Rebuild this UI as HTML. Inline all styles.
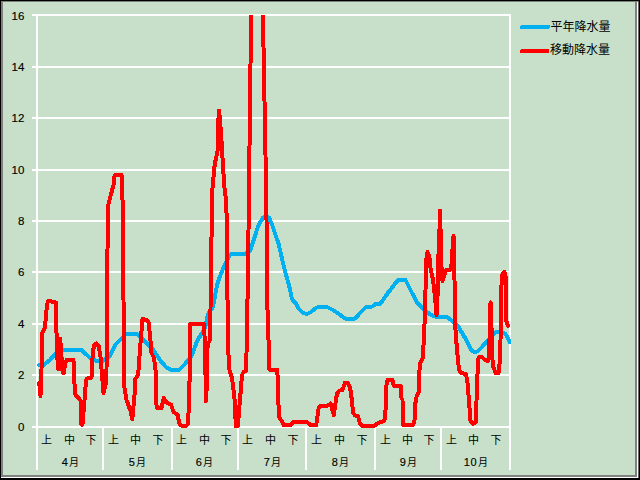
<!DOCTYPE html>
<html><head><meta charset="utf-8"><title>chart</title>
<style>html,body{margin:0;padding:0;background:#c8e0c9;width:640px;height:480px;overflow:hidden}
body{position:relative;font-family:"Liberation Sans",sans-serif}</style></head>
<body><svg width="640" height="480" viewBox="0 0 640 480" style="position:absolute;left:0;top:0"><rect x="0" y="0" width="640" height="480" fill="#000"/><rect x="1" y="1" width="638" height="477" fill="#666"/><rect x="1" y="1" width="637" height="477" fill="#fff"/><rect x="1" y="1" width="636" height="476" fill="#808080"/><rect x="3" y="2" width="632" height="473" fill="#c8e0c9"/><rect x="1" y="1" width="637" height="1" fill="#78867a"/><g shape-rendering="crispEdges" fill="#fff"><rect x="32" y="426" width="479" height="2"/><rect x="32" y="374" width="479" height="2"/><rect x="32" y="323" width="479" height="2"/><rect x="32" y="271" width="479" height="2"/><rect x="32" y="220" width="479" height="2"/><rect x="32" y="169" width="479" height="2"/><rect x="32" y="117" width="479" height="2"/><rect x="32" y="66" width="479" height="2"/><rect x="32" y="14" width="479" height="2"/><rect x="509" y="14" width="2" height="414"/><rect x="36" y="14" width="2" height="456"/><rect x="102" y="427" width="2" height="43"/><rect x="171" y="427" width="2" height="43"/><rect x="237" y="427" width="2" height="43"/><rect x="305" y="427" width="2" height="43"/><rect x="374" y="427" width="2" height="43"/><rect x="440" y="427" width="2" height="43"/><rect x="509" y="427" width="2" height="43"/></g><defs><clipPath id="cp"><rect x="30" y="15" width="490" height="420"/></clipPath></defs><g clip-path="url(#cp)" fill="none" stroke-width="4" stroke-linejoin="round" stroke-linecap="round" shape-rendering="crispEdges"><polyline points="39.3,365 43.5,365 50,360 55,354 59,351.5 63,350 81.5,350 89,357 94,360 98,361.5 103.5,360.5 110,356 115,345 120.5,339.5 126,334 137,334 144,340.5 152.5,349 160,360 166,367 171,370 179,370 185,364 190,358 192,355 197,341 201.5,334 205,328 208,314 213,307 217,285 220.5,275 224.5,265 230,255 232.5,253.5 246,253.5 250.5,250 252.3,244 258.2,226 263,217.5 266,216 269,217.5 272.5,226 278.6,244 280,250 283,263 286,275 289,285 291.5,297 293,301 296,303.5 299,309 303,313 307,314 311,312 315,308.5 319,306.5 324,306.5 328,307.5 333,310 339,314 345,318.5 355,318.5 361.5,311.5 366,307 372.5,306.5 376,303.5 380.5,303.5 387.5,293.5 391,289 398,280 405.5,280 412.5,294 417.5,303 423.5,309 427,312 430,314.5 435,316.5 446,316.5 452.5,321 458.5,327 467.5,342 471,350 475,352.5 478,351 481,348 487.5,340.5 495,332.5 500,332 505,333.5 508,338 509.5,342" stroke="#00b0f0"/><polyline points="39.2,383 40.5,396 41.5,370 41.9,333.5 45,327.5 45.5,321 46,316 47,305 48,301 50,300.5 52,302 56,302.5 56,326 57,340 57.5,360 58.2,369 60.2,338.5 62.6,372 63.8,373 65,364 66.5,360 73.5,360 74,378 75.5,395 79.5,399 80.5,401 81.5,424.5 82.5,424.5 84.5,400 86,381 87,378.5 91.5,377.5 92.7,354 94,345.5 96.25,343.5 98.75,346 100.6,357.5 102,375 103.5,393 105.5,385 106.5,370 107,310 107.5,250 108,206 110.5,196 113.5,185 114.5,176 116,174.5 121,174.5 122,177 122,195 123,205 123.5,300 124.2,386 126.5,400 130.5,411 132.3,419 134.5,395 134.5,380 137.5,376 138.5,370 140,349 141.5,331 142.5,319 146.5,320 148.5,322 150,335 151.5,353 154,358 155.5,370 156.5,405 157.5,408.5 161.5,408 163.8,398 167,403 171,404.5 173.5,412 177.5,414.5 179.5,424 182,426 186,426 187.8,424 188.6,412 189.8,372 190.2,345 190.2,324 204,324 204.5,335 205.5,375 206,401 206.8,385 207.3,350 208,344 210,340 210.5,310 211,250 212,225 212,192 213,184 214,171 215,162.5 217,154 218,148 218,127 219,110.5 220,120 220.5,127 221.5,141 222,154 223,162.5 224,184 226,200 227,225 227.3,280 228,347 229.5,370 232,378 234.2,395 235.3,410 235.7,426 238,426 239.2,408 241,388 242,375 243.5,372 246,371 247,335 248.5,231 249.5,147 250.5,65 251.1,15 251.2,5 262.7,5 262.9,15 263.5,47 264.5,101 265.5,155 266.5,220 267.5,310 269.5,369.5 277,369.5 278,380 278.75,416 283.75,425 290.6,425 293.75,421.5 306.25,421.5 310.6,425 316.25,425 318,412.5 318.75,407.5 321.25,405.6 328,405.6 330.6,403.5 333.75,415 335.6,402.5 336.9,393.75 339.4,390.6 342.5,390 345,382.5 347.5,382.5 350,387 352,401 353,412.5 355,415.6 358,416 360,424 362,425.6 375,425.6 377,423.75 384.4,420.6 385.6,408.75 386.25,386.25 387.5,380 392.5,380 393.75,385.6 400.6,385.6 401.25,397.5 402.5,400 403,425 412.5,425 414.4,422.5 415.6,401 417,395 418.75,392.5 419.4,381 419.5,370 420,363 422.5,359 423.5,345 424.5,325 425.5,290 426,262 427.5,252 429.3,256 430.5,268 433,280 435,297 436.5,315 437.5,297 438.3,262 439,234 439.8,226 440,210.5 440.2,226 441,234 441.2,262 442.5,281 444.5,275 446,270 450.5,269.5 451.5,264 452.8,245 453.5,236 454.2,245 454.5,280 455,310 455.5,330 457,350 459,370 461,373 466,374 467.5,382.5 469,401 470.5,421 473,424 476,422 476.5,401 477,382 478,367 478.5,358.5 480,356.5 482,357 485,360 487.5,361 489,359 489.5,340 490,308 490.6,302.5 491.2,310 492,355 493.3,367 496,373.5 498.5,373 500,360 501,320 501.5,285 502,275 504.5,272 505.5,275 506,302 506,320 508,326" stroke="#ff0000"/></g><g fill="none" stroke-width="4" stroke-linecap="round" shape-rendering="crispEdges"><line x1="522" y1="27" x2="548" y2="27" stroke="#00b0f0"/><line x1="522" y1="51" x2="547.5" y2="51" stroke="#ff0000"/></g><g font-family="'Liberation Sans', 'Noto Sans CJK JP', sans-serif" font-size="12px" fill="#000"><text x="550.5" y="30.5">平年降水量</text><text x="550" y="53.5">移動降水量</text></g><g font-family="Liberation Sans, sans-serif" font-size="11.5px" fill="#000" stroke="#000" stroke-width="0.15"><text x="24.4" y="431.15" text-anchor="end">0</text><text x="24.4" y="379.15" text-anchor="end">2</text><text x="24.4" y="328.15" text-anchor="end">4</text><text x="24.4" y="276.15" text-anchor="end">6</text><text x="24.4" y="225.15" text-anchor="end">8</text><text x="24.4" y="174.15" text-anchor="end">10</text><text x="24.4" y="122.15" text-anchor="end">12</text><text x="24.4" y="71.15" text-anchor="end">14</text><text x="24.4" y="20.15" text-anchor="end">16</text></g><g font-family="'Liberation Sans', 'Noto Sans CJK JP', sans-serif" font-size="11px" fill="#000" text-anchor="middle"><text x="46.5" y="444">上</text><text x="69.5" y="444">中</text><text x="91" y="444">下</text><text x="113.5" y="444">上</text><text x="135.5" y="444">中</text><text x="158" y="444">下</text><text x="181.5" y="444">上</text><text x="204.5" y="444">中</text><text x="226" y="444">下</text><text x="247.5" y="444">上</text><text x="270.5" y="444">中</text><text x="293" y="444">下</text><text x="316.5" y="444">上</text><text x="339.5" y="444">中</text><text x="362" y="444">下</text><text x="385.5" y="444">上</text><text x="407.5" y="444">中</text><text x="429" y="444">下</text><text x="451.5" y="444">上</text><text x="473.5" y="444">中</text><text x="496" y="444">下</text></g><text x="61.80" y="466" font-family="Liberation Sans, sans-serif" font-size="11px" letter-spacing="0" fill="#000" stroke="#000" stroke-width="0.15">4</text><text x="69" y="466" font-family="'Liberation Sans', 'Noto Sans CJK JP', sans-serif" font-size="10px" fill="#000">月</text><text x="128.80" y="466" font-family="Liberation Sans, sans-serif" font-size="11px" letter-spacing="0" fill="#000" stroke="#000" stroke-width="0.15">5</text><text x="136" y="466" font-family="'Liberation Sans', 'Noto Sans CJK JP', sans-serif" font-size="10px" fill="#000">月</text><text x="195.80" y="466" font-family="Liberation Sans, sans-serif" font-size="11px" letter-spacing="0" fill="#000" stroke="#000" stroke-width="0.15">6</text><text x="203" y="466" font-family="'Liberation Sans', 'Noto Sans CJK JP', sans-serif" font-size="10px" fill="#000">月</text><text x="263.80" y="466" font-family="Liberation Sans, sans-serif" font-size="11px" letter-spacing="0" fill="#000" stroke="#000" stroke-width="0.15">7</text><text x="271" y="466" font-family="'Liberation Sans', 'Noto Sans CJK JP', sans-serif" font-size="10px" fill="#000">月</text><text x="331.80" y="466" font-family="Liberation Sans, sans-serif" font-size="11px" letter-spacing="0" fill="#000" stroke="#000" stroke-width="0.15">8</text><text x="339" y="466" font-family="'Liberation Sans', 'Noto Sans CJK JP', sans-serif" font-size="10px" fill="#000">月</text><text x="399.80" y="466" font-family="Liberation Sans, sans-serif" font-size="11px" letter-spacing="0" fill="#000" stroke="#000" stroke-width="0.15">9</text><text x="407" y="466" font-family="'Liberation Sans', 'Noto Sans CJK JP', sans-serif" font-size="10px" fill="#000">月</text><text x="463.80" y="466" font-family="Liberation Sans, sans-serif" font-size="11px" letter-spacing="0.6" fill="#000" stroke="#000" stroke-width="0.15">10</text><text x="478" y="466" font-family="'Liberation Sans', 'Noto Sans CJK JP', sans-serif" font-size="10px" fill="#000">月</text></svg></body></html>
